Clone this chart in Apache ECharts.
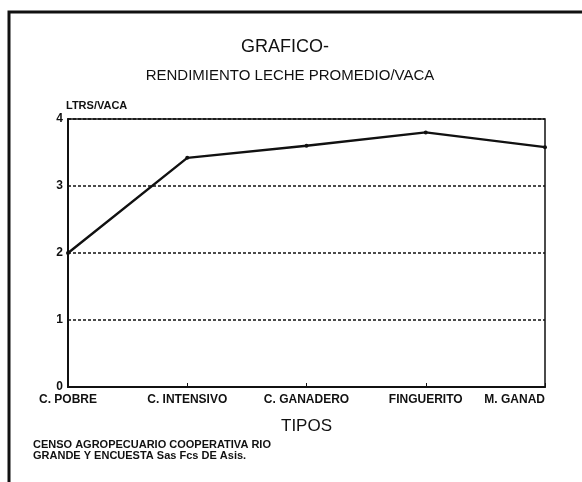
<!DOCTYPE html>
<html>
<head>
<meta charset="utf-8">
<script src="https://cdn.jsdelivr.net/npm/echarts@6/dist/echarts.min.js"></script>
<style>
	html, body { margin: 0; padding: 0; background: #fff; }
	#chart { width: 582px; height: 482px; }
</style>
</head>
<body>
<div id="chart"></div>
<script>
const tipos = ['C. POBRE', 'C. INTENSIVO', 'C. GANADERO', 'FINGUERITO', 'M. GANAD']
const litros = [2.0, 3.42, 3.6, 3.8, 3.58]
const yTicks = [0, 1, 2, 3, 4]

const font = 'Liberation Sans'

const chart = echarts.init(document.getElementById('chart'))
chart.setOption({
	backgroundColor: '#fff',
	animation: false,
	title: [
		{
			text: 'GRAFICO-',
			left: 280,
			top: 33,
			textAlign: 'center',
			textStyle: { fontFamily: font, fontSize: 18, fontWeight: 'normal', color: '#111' }
		},
		{
			text: 'RENDIMIENTO LECHE PROMEDIO/VACA',
			left: 285,
			top: 63,
			textAlign: 'center',
			textStyle: { fontFamily: font, fontSize: 15, fontWeight: 'normal', color: '#111' }
		}
	],
	grid: {
		left: 68,
		right: 37,
		top: 119,
		bottom: 95,
		show: true,
		borderColor: '#111',
		borderWidth: 1.5
	},
	xAxis: {
		type: 'category',
		data: tipos,
		boundaryGap: false,
		name: 'TIPOS',
		nameLocation: 'middle',
		nameGap: 31,
		nameTextStyle: { fontFamily: font, fontSize: 17, color: '#111' },
		axisLine: { lineStyle: { color: '#111', width: 2 } },
		axisTick: { inside: true, length: 4, lineStyle: { color: '#111' } },
		axisLabel: {
			fontFamily: font,
			fontSize: 12,
			fontWeight: 'bold',
			color: '#111',
			margin: 7,
			interval: 0,
			alignMaxLabel: 'right'
		}
	},
	yAxis: {
		type: 'value',
		min: yTicks[0],
		max: yTicks[yTicks.length - 1],
		interval: 1,
		name: 'LTRS/VACA',
		nameLocation: 'end',
		nameGap: 8,
		nameTextStyle: { fontFamily: font, fontSize: 11, fontWeight: 'bold', color: '#111', align: 'left', padding: [0, 0, 0, -2] },
		axisLine: { show: true, lineStyle: { color: '#111', width: 2 } },
		axisTick: { show: false },
		axisLabel: { fontFamily: font, fontSize: 12, fontWeight: 'bold', color: '#111', margin: 5 },
		splitLine: { lineStyle: { color: '#111', type: [3, 2], width: 1.6 } }
	},
	series: [
		{
			type: 'line',
			data: litros,
			symbol: 'circle',
			symbolSize: 4,
			itemStyle: { color: '#111' },
			lineStyle: { color: '#111', width: 2.4 }
		}
	],
	graphic: [
		{
			type: 'polyline',
			shape: { points: [[9, 482], [9, 12], [582, 12]] },
			style: { stroke: '#111', lineWidth: 3, fill: null }
		},
		{
			type: 'text',
			left: 33,
			top: 439,
			style: {
				text: 'CENSO AGROPECUARIO COOPERATIVA RIO\nGRANDE Y ENCUESTA Sas Fcs DE Asis.',
				font: 'bold 11px "Liberation Sans"',
				lineHeight: 11,
				fill: '#111'
			}
		}
	]
})
</script>
</body>
</html>
